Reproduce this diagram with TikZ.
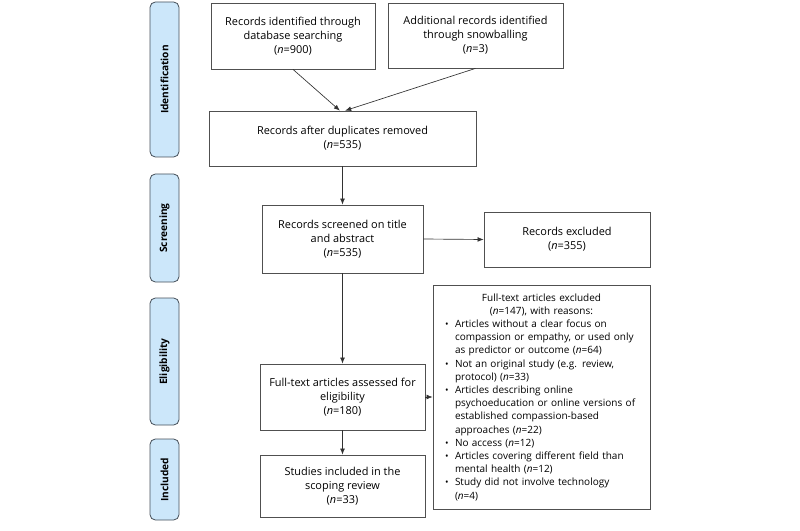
\documentclass[tikz,border=0pt]{standalone}
\usepackage{fontspec}
\setmainfont{Open Sans}
\usetikzlibrary{arrows.meta}
\newcommand{\boxfont}{\fontsize{8.2}{10.6}\selectfont}
\newcommand{\ncount}[1]{(\textit{n}=#1)}
\newcommand{\bitem}[1]{\mbox{\makebox[7.5pt][l]{\scriptsize\textbullet}#1}}
\newcommand{\bcont}[1]{\mbox{\hspace*{7.5pt}#1}}
\begin{document}
\begin{tikzpicture}[x=0.75pt,y=0.75pt,yscale=-1,xscale=1,
  box/.style={draw={rgb, 255:red, 80; green, 80; blue, 80}, line width=0.6pt, fill=white, align=center, inner sep=2pt, font=\boxfont},
  phase/.style={draw={rgb, 255:red, 70; green, 80; blue, 90}, line width=0.6pt, fill={rgb, 255:red, 204; green, 231; blue, 250}, rounded corners=4pt, rotate=90, minimum height=21.75pt, inner sep=0pt, font=\fontsize{7.6}{9}\selectfont\bfseries},
  arr/.style={draw={rgb, 255:red, 50; green, 50; blue, 50}, line width=0.5pt, -{Latex[length=4.5pt,width=3.6pt]}}]
\useasboundingbox (0,0) rectangle (800,531);

%Phase labels
\node[phase, minimum width=116.25pt] (pident) at (164.5,79.5) {Identification};
\node[phase, minimum width=81pt] (pscreen) at (164.5,228) {Screening};
\node[phase, minimum width=95.25pt] (peligi) at (164.5,361.5) {Eligibility};
\node[phase, minimum width=60.75pt] (pincl) at (164.5,479.5) {Included};

%Boxes
\node[box, minimum width=123pt, minimum height=49.5pt] (dbase) at (293,36) {Records identified through\\database searching\\\ncount{900}};
\node[box, minimum width=131.25pt, minimum height=48.75pt] (snowb) at (475.5,35.5) {Additional records identified\\through snowballing\\\ncount{3}};
\node[box, minimum width=200.25pt, minimum height=41.25pt] (dupl) at (342.5,138.5) {Records after duplicates removed\\\ncount{535}};
\node[box, minimum width=120.75pt, minimum height=51pt] (screen) at (342.5,239) {Records screened on title\\and abstract\\\ncount{535}};
\node[box, minimum width=124.5pt, minimum height=41.25pt] (recexcl) at (567,239.5) {Records excluded\\\ncount{355}};
\node[box, minimum width=123.75pt, minimum height=49.5pt] (fulltext) at (342.5,397) {Full-text articles assessed for\\eligibility\\\ncount{180}};
\node[box, minimum width=123.75pt, minimum height=46.5pt] (incl) at (342.5,486) {Studies included in the\\scoping review\\\ncount{33}};
\node[box, align=left, text width=144.75pt, inner xsep=9pt, minimum width=162.75pt, minimum height=168pt, font=\fontsize{7.5}{9.9}\selectfont] (ftexcl) at (541.5,397) {%
\makebox[\linewidth]{Full-text articles excluded}\\
\makebox[\linewidth]{\ncount{147}, with reasons:}\\
\bitem{Articles without a clear focus on}\\
\bcont{compassion or empathy, or used only}\\
\bcont{as predictor or outcome \ncount{64}}\\
\bitem{Not an original study (e.g. review,}\\
\bcont{protocol) \ncount{33}}\\
\bitem{Articles describing online}\\
\bcont{psychoeducation or online versions of}\\
\bcont{established compassion-based}\\
\bcont{approaches \ncount{22}}\\
\bitem{No access \ncount{12}}\\
\bitem{Articles covering different field than}\\
\bcont{mental health \ncount{12}}\\
\bitem{Study did not involve technology}\\
\bcont{\ncount{4}}};

%Arrows
\draw[arr] (dbase.south) -- ([xshift=-2pt]dupl.north);
\draw[arr] (snowb.south) -- ([xshift=2pt]dupl.north);
\draw[arr] (dupl.south) -- (screen.north);
\draw[arr] (screen.east) -- (recexcl.west);
\draw[arr] (screen.south) -- (fulltext.north);
\draw[arr] (fulltext.east) -- (ftexcl.west);
\draw[arr] (fulltext.south) -- (incl.north);

\end{tikzpicture}
\end{document}
